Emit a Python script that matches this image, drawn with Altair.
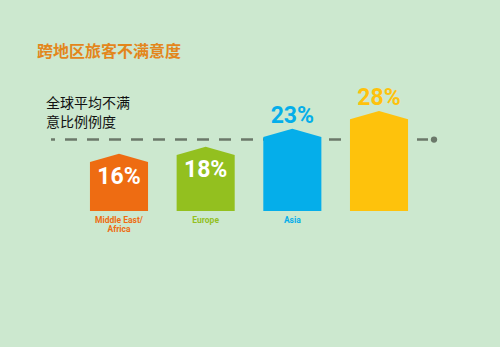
import altair as alt
import pandas as pd

# ---- data ----
categories = ["Middle East/\nAfrica", "Europe", "Asia", ""]
values = [16, 18, 23, 28]
value_labels = ["16%", "18%", "23%", "28%"]
global_avg = [20]
title_text = ["跨地区旅客不满意度"]
avg_text = ["全球平均不满", "意比例例度"]

# ---- style ----
bar_colors = ["#ee6c12", "#93c01f", "#05aeea", "#fec20c"]
bg = "#cce8cf"
half_w = 0.335   # half bar width in category units
shoulder = 2.3   # roof height in value units

rows = []
for i, (c, v) in enumerate(zip(categories, values)):
    rows.append({"cat": c, "x": i - half_w, "y": v - shoulder, "base": 0})
    rows.append({"cat": c, "x": i, "y": v, "base": 0})
    rows.append({"cat": c, "x": i + half_w, "y": v - shoulder, "base": 0})
house = pd.DataFrame(rows)

bars_df = pd.DataFrame({"cat": categories, "idx": list(range(len(categories))),
                        "value": values, "label": value_labels,
                        "base": [0] * len(categories)})
avg_df = pd.DataFrame({"avg": global_avg})

xs = alt.Scale(domain=[-1.373, 4.396], nice=False, zero=False)
ys = alt.Scale(domain=[-38.08, 59.08], nice=False, zero=False)
cs = alt.Scale(domain=categories, range=bar_colors)

X = lambda f: alt.X(f, type="quantitative", scale=xs, axis=None)
Y = lambda f: alt.Y(f, type="quantitative", scale=ys, axis=None, stack=None)

rule = alt.Chart(avg_df).mark_rule(color="#6b786a", strokeWidth=2.5,
                                   strokeDash=[12, 10], strokeDashOffset=8).encode(
    x=alt.value(51), x2=alt.value(428), y=Y("avg:Q"))
dot = alt.Chart(avg_df).mark_circle(color="#6b786a", opacity=1, size=40).encode(
    x=alt.value(434), y=Y("avg:Q"))

area = alt.Chart(house).mark_area(interpolate="linear", opacity=1).encode(
    x=X("x"), y=Y("y"), y2=alt.Y2("base:Q"),
    color=alt.Color("cat:N", scale=cs, legend=None),
    detail="cat:N")

inside = alt.Chart(bars_df).transform_filter(
    alt.datum.value < global_avg[0]).mark_text(
    font="Roboto", fontWeight="bold", fontSize=23, color="white",
    baseline="middle", dy=23).encode(x=X("idx"), y=Y("value"), text="label:N")

outside = alt.Chart(bars_df).transform_filter(
    alt.datum.value >= global_avg[0]).mark_text(
    font="Roboto", fontWeight="bold", fontSize=23,
    baseline="middle", dy=-13).encode(
    x=X("idx"), y=Y("value"), text="label:N",
    color=alt.Color("cat:N", scale=cs, legend=None))

catlab = alt.Chart(bars_df).transform_calculate(
    lines="split(datum.cat, '\\n')").mark_text(
    font="Roboto", fontWeight="bold", fontSize=8.5, baseline="top",
    lineHeight=9, dy=5).encode(
    x=X("idx"), y=Y("base:Q"), text="lines:N",
    color=alt.Color("cat:N", scale=cs, legend=None))

title = alt.Chart(pd.DataFrame({"t": title_text})).mark_text(
    font="Noto Sans CJK SC", fontWeight="bold", fontSize=16, color="#e3861c",
    align="left", baseline="middle").encode(
    x=alt.value(37), y=alt.value(52), text="t:N")

avg1 = alt.Chart(pd.DataFrame({"t": [avg_text[0]]})).mark_text(
    font="Noto Sans CJK SC", fontSize=14, color="#111111",
    align="left", baseline="middle").encode(
    x=alt.value(46), y=alt.value(104), text="t:N")
avg2 = alt.Chart(pd.DataFrame({"t": [avg_text[1]]})).mark_text(
    font="Noto Sans CJK SC", fontSize=14, color="#111111",
    align="left", baseline="middle").encode(
    x=alt.value(46), y=alt.value(122.5), text="t:N")

chart = alt.layer(rule, dot, area, inside, outside, catlab, title, avg1, avg2).properties(
    width=500, height=347, background=bg, padding=0,
    autosize=alt.AutoSizeParams(type="none")
).configure_view(stroke=None)

chart.save("out.html", embed_options={"renderer": "svg", "actions": False})
